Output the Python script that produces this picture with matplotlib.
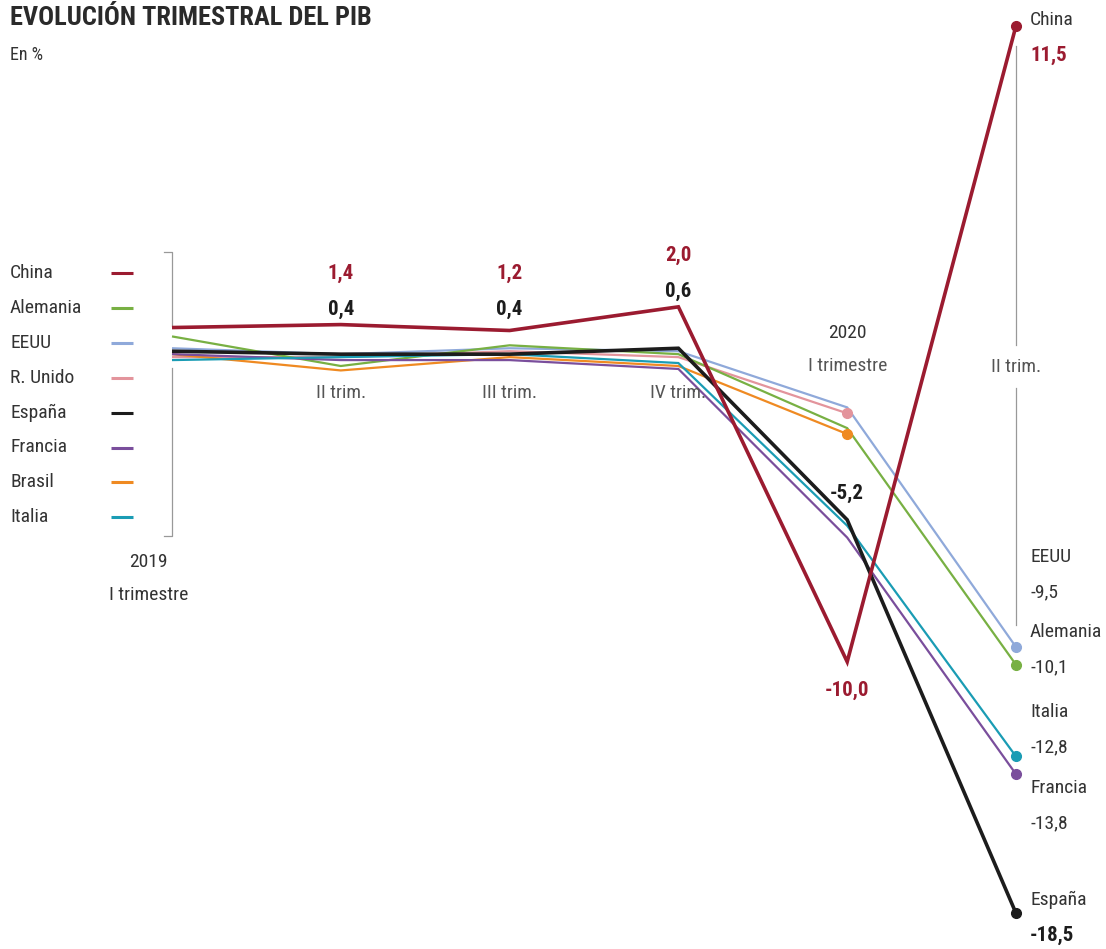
import numpy as np
import matplotlib
matplotlib.use('Agg')
import matplotlib.pyplot as plt
from matplotlib import font_manager

# font: try a condensed family first
names = {f.name for f in font_manager.fontManager.ttflist}
cands = ['Roboto Condensed', 'Liberation Sans Narrow', 'DejaVu Sans Condensed', 'Roboto']
fam = [c for c in cands if c in names][0]
plt.rcParams['font.family'] = [fam, 'DejaVu Sans']

quarters = ['2019\nI trimestre', 'II trim.', 'III trim.', 'IV trim.', '2020\nI trimestre', 'II trim.']
countries = ['China', 'Alemania', 'EEUU', 'R. Unido', 'España', 'Francia', 'Brasil', 'Italia']
colors = ['#9b1b30', '#78b043', '#8fa9da', '#e3949c', '#1c1c1c', '#7a4e9c', '#ef8a22', '#1a9cb4']

china = [1.3, 1.4, 1.2, 2.0, -10.0, 11.5]
alemania = [1.0, 0.0, 0.7, 0.4, -2.1, -10.1]
eeuu = [0.6, 0.4, 0.6, 0.5, -1.4, -9.5]
reino_unido = [0.3, 0.3, 0.5, 0.3, -1.6, np.nan]
espana = [0.5, 0.4, 0.4, 0.6, -5.2, -18.5]
francia = [0.4, 0.2, 0.2, -0.1, -5.8, -13.8]
brasil = [0.4, -0.15, 0.3, 0.0, -2.3, np.nan]
italia = [0.2, 0.3, 0.4, 0.1, -5.4, -13.2]
series = [china, alemania, eeuu, reino_unido, espana, francia, brasil, italia]

china_lbl = ['1,4', '1,2', '2,0']
espana_lbl = ['0,4', '0,4', '0,6']
end_names = ['China', 'EEUU', 'Alemania', 'Italia', 'Francia', 'España']
end_vals = ['11,5', '-9,5', '-10,1', '-12,8', '-13,8', '-18,5']

W, H = 1106, 949
fig = plt.figure(figsize=(W / 100, H / 100), dpi=100)
ax = fig.add_axes([0, 0, 1, 1])
ax.set_axis_off()

x0, dx = 172, 168.8
zero, k = 366, 29.58
ax.set_xlim(-x0 / dx, (W - x0) / dx)
ax.set_ylim(-(H - zero) / k, zero / k)

def px(xp, yp):
    return (xp - x0) / dx, (zero - yp) / k

txt = '#333333'
x = np.arange(6)

# lines, thin ones below, Spain and China on top
order = [2, 3, 1, 6, 5, 7, 4, 0]
for i in order:
    lw = 2.6 if i in (0, 4) else 1.6
    ax.plot(x, series[i], color=colors[i], lw=lw, zorder=3 + (i in (0, 4)),
            solid_joinstyle='miter', solid_capstyle='butt')
    y = np.array(series[i])
    last = np.where(~np.isnan(y))[0][-1]
    ax.plot(x[last], y[last], 'o', color=colors[i], ms=7, zorder=6)

# bracket at first quarter
bx = 0
ax.plot([px(164, 0)[0], bx, bx], [px(0, 252)[1], px(0, 252)[1], px(0, 326)[1]], color='#999999', lw=0.9, zorder=1)
ax.plot([bx, bx, px(164, 0)[0]], [px(0, 368)[1], px(0, 536)[1], px(0, 536)[1]], color='#999999', lw=0.9, zorder=1)

# vertical guide at last quarter
ax.plot([5, 5], [px(0, 46)[1], px(0, 345)[1]], color='#999999', lw=0.9, zorder=1)
ax.plot([5, 5], [px(0, 388)[1], px(0, 625)[1]], color='#999999', lw=0.9, zorder=1)

fs = 14
# quarter labels
ax.text(0 - 0.14, px(0, 562)[1], '2019', ha='center', va='center', fontsize=fs, color=txt)
ax.text(0 - 0.14, px(0, 595)[1], 'I trimestre', ha='center', va='center', fontsize=fs, color=txt)
for i in (1, 2, 3):
    ax.text(i, px(0, 393)[1], quarters[i], ha='center', va='center', fontsize=fs, color='#555555')
ax.text(4, px(0, 333)[1], '2020', ha='center', va='center', fontsize=fs, color=txt)
ax.text(4, px(0, 366)[1], 'I trimestre', ha='center', va='center', fontsize=fs, color='#555555')
ax.text(5, px(0, 367)[1], quarters[5], ha='center', va='center', fontsize=fs, color='#555555',
        bbox=dict(fc='white', ec='none', pad=1))

# value labels 2019
for j, i in enumerate((1, 2, 3)):
    yc = 273 if i < 3 else 255
    ax.text(i, px(0, yc)[1], china_lbl[j], ha='center', va='center', fontsize=fs + 1,
            fontweight='bold', color=colors[0])
    ax.text(i, px(0, yc + 36)[1], espana_lbl[j], ha='center', va='center', fontsize=fs + 1,
            fontweight='bold', color='#1c1c1c')
ax.text(4, px(0, 493)[1], '-5,2', ha='center', va='center', fontsize=fs + 1, fontweight='bold', color='#1c1c1c')
ax.text(4, px(0, 690)[1], '-10,0', ha='center', va='center', fontsize=fs + 1, fontweight='bold', color=colors[0])

# end labels
end_y = [20, 557, 632, 712, 788, 900]
for n, v, yc in zip(end_names, end_vals, end_y):
    ax.text(px(1030, 0)[0], px(0, yc)[1], n, ha='left', va='center', fontsize=fs, color=txt)
    bold = n in ('China', 'España')
    ax.text(px(1030, 0)[0], px(0, yc + 35)[1], v, ha='left', va='center', fontsize=fs + (1 if bold else 0),
            fontweight='bold' if bold else 'normal',
            color=(colors[0] if n == 'China' else ('#1c1c1c' if bold else txt)))

# legend
for j, (n, c) in enumerate(zip(countries, colors)):
    yc = 273 + j * 34.9
    ax.text(px(10, 0)[0], px(0, yc)[1], n, ha='left', va='center', fontsize=fs, color=txt)
    ax.plot([px(111, 0)[0], px(133, 0)[0]], [px(0, yc)[1]] * 2, color=c, lw=2.2, solid_capstyle='butt')

# title
fig.text(10 / W, 1 - 18 / H, 'EVOLUCIÓN TRIMESTRAL DEL PIB', ha='left', va='center',
         fontsize=19, fontweight='bold', color='#2a2a2a')
fig.text(10 / W, 1 - 55 / H, 'En %', ha='left', va='center', fontsize=13, color=txt)

fig.savefig('out.png', dpi=100)
